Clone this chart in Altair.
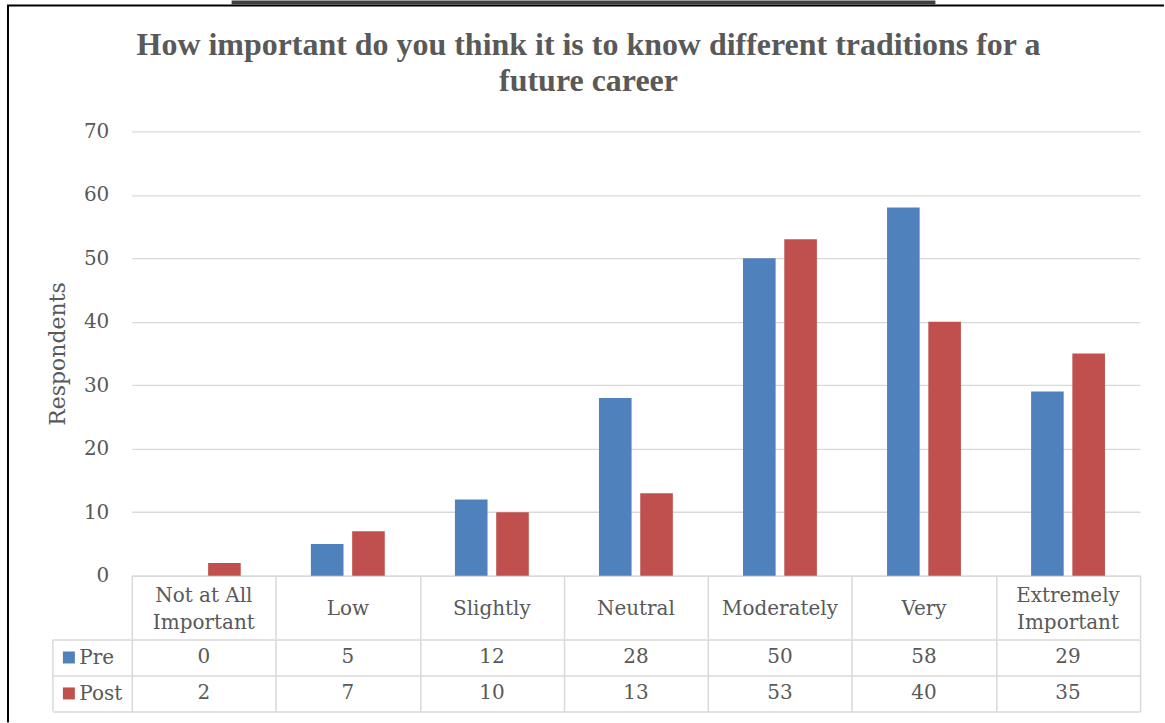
import altair as alt
import pandas as pd

# ---- data ----
categories = ["Not at All Important", "Low", "Slightly", "Neutral",
              "Moderately", "Very", "Extremely Important"]
header_labels = ["Not at All\nImportant", "Low", "Slightly", "Neutral",
                 "Moderately", "Very", "Extremely\nImportant"]
series = ["Pre", "Post"]
pre_values = [0, 5, 12, 28, 50, 58, 29]
post_values = [2, 7, 10, 13, 53, 40, 35]
y_ticks = [0, 10, 20, 30, 40, 50, 60, 70]
title_lines = ["How important do you think it is to know different traditions for a",
               "future career"]
y_title = "Respondents"
colors = ["#4F81BD", "#C0504D"]

rows = []
for s, vals in zip(series, [pre_values, post_values]):
    for c, v in zip(categories, vals):
        rows.append({"category": c, "series": s, "value": v})
df = pd.DataFrame(rows)
header_df = pd.DataFrame({"category": categories, "label": header_labels})
header_df["two"] = header_df["label"].str.contains("\n")
series_df = pd.DataFrame({"series": series})
blank = pd.DataFrame({"k": [0]})

# ---- layout ----
W = 1010
H = 445
HEADER = 63
ROWS_H = 72
GRID = "#d9d9d9"
TXT = "#595959"
FONT = "DejaVu Serif"

x_scale = alt.Scale(domain=categories, paddingInner=0, paddingOuter=0)
color_scale = alt.Scale(domain=series, range=colors)

bars = alt.Chart(df).mark_bar().encode(
    x=alt.X("category:N", sort=categories, scale=x_scale, title=None,
            axis=alt.Axis(orient="bottom", tickBand="extent", ticks=True,
                          tickSize=HEADER, tickColor=GRID, tickWidth=1.5,
                          domain=True, domainColor=GRID, domainWidth=1.5,
                          grid=False, labels=False)),
    xOffset=alt.XOffset("series:N", sort=series,
                        scale=alt.Scale(paddingInner=0.21, paddingOuter=0.85)),
    y=alt.Y("value:Q", scale=alt.Scale(domain=[0, 70], nice=False),
            axis=alt.Axis(values=y_ticks, grid=True, gridColor=GRID, gridWidth=1.3,
                          domain=False, ticks=False, labelPadding=23,
                          labelFont=FONT, labelFontSize=20, labelColor=TXT,
                          title=y_title, titleFont=FONT, titleFontSize=22,
                          titleFontWeight="normal", titleColor=TXT,
                          titlePadding=14)),
    color=alt.Color("series:N", scale=color_scale, legend=None),
)

header_one = alt.Chart(header_df).transform_filter("!datum.two").mark_text(
    font=FONT, fontSize=20, color=TXT, baseline="middle", lineBreak="\n").encode(
    x=alt.X("category:N", sort=categories, scale=x_scale),
    y=alt.value(H + HEADER / 2 + 2), text="label:N")
header_two = alt.Chart(header_df).transform_filter("datum.two").mark_text(
    font=FONT, fontSize=20, color=TXT, baseline="middle", lineBreak="\n",
    lineHeight=27, dy=-13.5).encode(
    x=alt.X("category:N", sort=categories, scale=x_scale),
    y=alt.value(H + HEADER / 2 + 2), text="label:N")

top_border = alt.Chart(blank).mark_rule(color="black", strokeWidth=2).encode(
    x=alt.value(-125), x2=alt.value(1034), y=alt.value(-126))
left_border_a = alt.Chart(blank).mark_rule(color="black", strokeWidth=2).encode(
    x=alt.value(-124), y=alt.value(-126), y2=alt.value(H + HEADER))
box = alt.Chart(blank).mark_rect(fillOpacity=0, stroke="#404040", strokeWidth=2).encode(
    x=alt.value(101), x2=alt.value(804), y=alt.value(-130), y2=alt.value(-128))

chart_a = alt.layer(bars, header_one, header_two, top_border, left_border_a, box).properties(
    width=W, height=H)

# ---- data table ----
table_text = alt.Chart(df).mark_text(font=FONT, fontSize=20, color=TXT,
                                     baseline="middle").encode(
    x=alt.X("category:N", sort=categories, scale=x_scale, title=None,
            axis=alt.Axis(tickBand="extent", grid=True, gridColor=GRID, gridWidth=1.5,
                          labels=False, ticks=False, domain=False)),
    y=alt.Y("series:N", sort=series, scale=alt.Scale(domain=series, paddingInner=0, paddingOuter=0),
            title=None,
            axis=alt.Axis(tickBand="extent", grid=True, gridColor=GRID, gridWidth=1.5,
                          ticks=True, tickSize=79, tickColor=GRID, tickWidth=1.5,
                          domain=False, labelAlign="left", labelPadding=-26,
                          labelBaseline="middle",
                          labelFont=FONT, labelFontSize=20, labelColor=TXT)),
    text="value:Q",
)
squares = alt.Chart(series_df).mark_square(size=144, opacity=1).encode(
    x=alt.value(-63),
    y=alt.Y("series:N", sort=series),
    color=alt.Color("series:N", scale=color_scale, legend=None),
)
table_left = alt.Chart(blank).mark_rule(color=GRID, strokeWidth=1.5).encode(
    x=alt.value(-79), y=alt.value(0), y2=alt.value(ROWS_H))
left_border_c = alt.Chart(blank).mark_rule(color="black", strokeWidth=2).encode(
    x=alt.value(-124), y=alt.value(-5), y2=alt.value(83))

chart_c = alt.layer(table_text, squares, table_left, left_border_c).properties(
    width=W, height=ROWS_H)

chart = alt.vconcat(chart_a, chart_c, spacing=-15).properties(
    title=alt.TitleParams(text=title_lines, font="Liberation Serif", fontSize=32,
                          fontWeight="bold", color=TXT, anchor="middle",
                          offset=-98, lineHeight=37, dx=3),
    padding={"left": 6, "top": 0, "right": 0, "bottom": 0},
).configure_view(strokeWidth=0)

chart.save("out.html", embed_options={"renderer": "svg", "actions": False})
